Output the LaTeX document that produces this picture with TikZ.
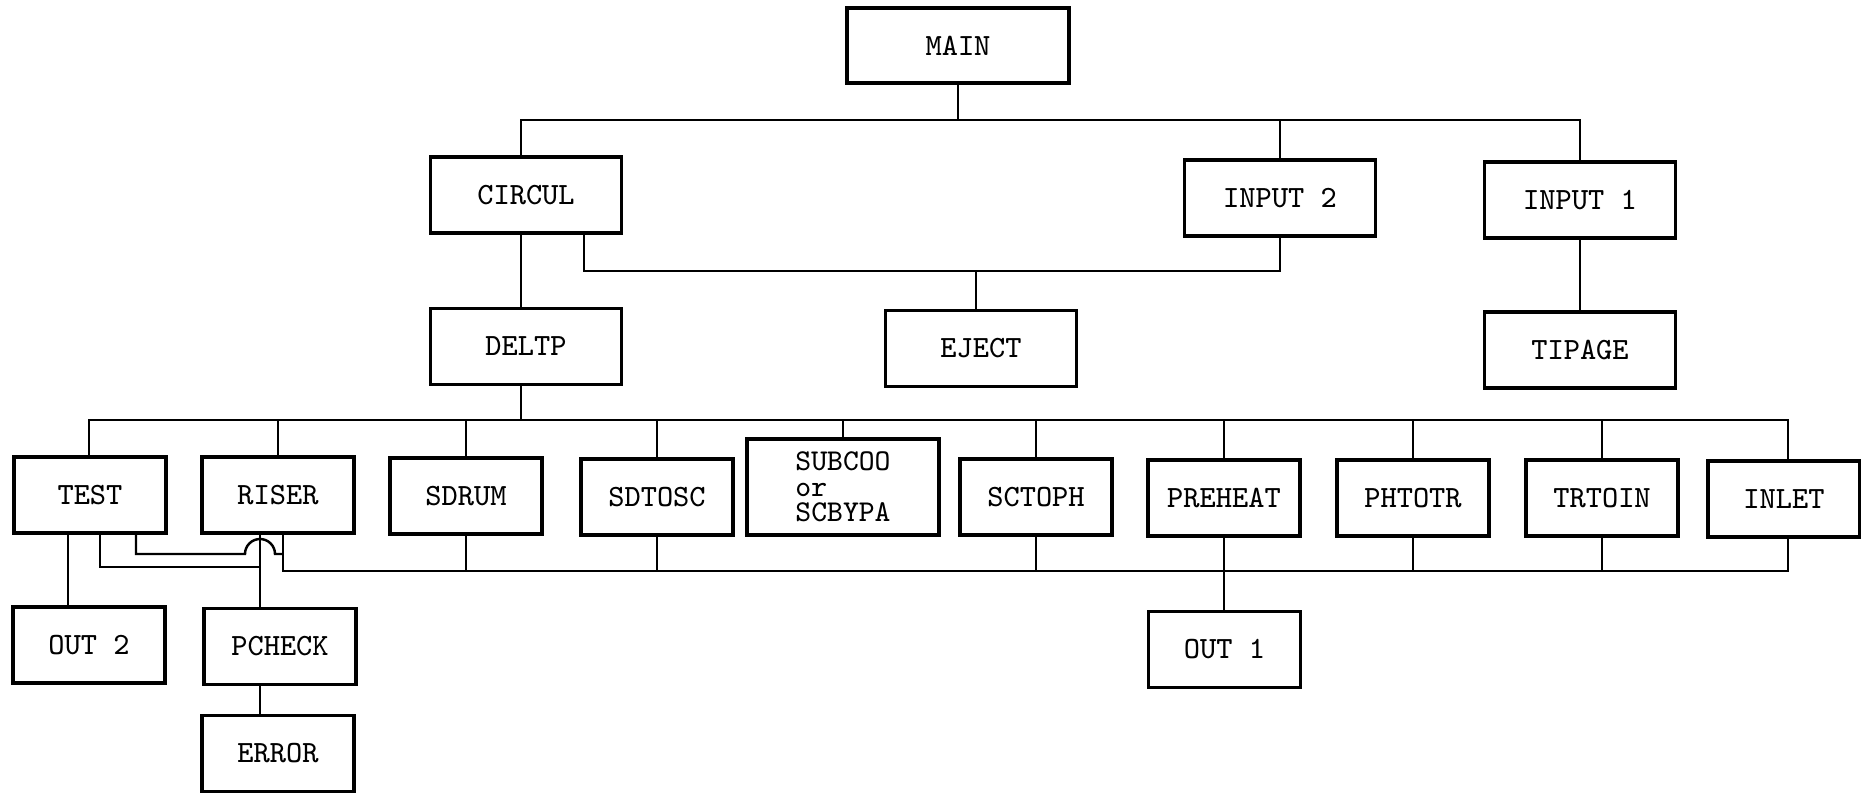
\documentclass[tikz,border=0pt]{standalone}
\usetikzlibrary{calc}
\begin{document}
\begin{tikzpicture}[
    blk/.style={draw, line width=1.1pt, minimum width=1.52cm, minimum height=0.76cm, inner sep=1pt, align=center, font=\ttfamily\fontsize{8.8}{9}\selectfont},
    wide/.style={blk, minimum width=1.91cm},
    ln/.style={line width=0.7pt}
]
\useasboundingbox (0,0) rectangle (18.61,-7.93);

% top levels
\node[blk, minimum width=2.22cm, minimum height=0.75cm] (main) at (9.58,-0.455) {MAIN};
\node[wide] (circul) at (5.26,-1.95) {CIRCUL};
\node[wide] (inptwo) at (12.80,-1.98) {INPUT 2};
\node[wide] (inpone) at (15.80,-2.00) {INPUT 1};
\node[wide] (deltp) at (5.26,-3.465) {DELTP};
\node[wide] (eject) at (9.81,-3.485) {EJECT};
\node[wide] (tipage) at (15.80,-3.50) {TIPAGE};

% row of DELTP
\node[blk] (test) at (0.90,-4.95) {TEST};
\node[blk] (riser) at (2.78,-4.95) {RISER};
\node[blk] (sdrum) at (4.66,-4.96) {SDRUM};
\node[blk] (sdtosc) at (6.57,-4.97) {SDTOSC};
\node[blk, minimum width=1.92cm, minimum height=0.96cm, align=left, font=\ttfamily\fontsize{8.6}{7.2}\selectfont] (subcoo) at (8.43,-4.87) {SUBCOO\\or\\SCBYPA};
\node[blk] (sctoph) at (10.36,-4.97) {SCTOPH};
\node[blk] (preheat) at (12.24,-4.98) {PREHEAT};
\node[blk] (phtotr) at (14.13,-4.98) {PHTOTR};
\node[blk] (trtoin) at (16.02,-4.98) {TRTOIN};
\node[blk] (inlet) at (17.84,-4.99) {INLET};

% bottom
\node[blk] (outtwo) at (0.89,-6.45) {OUT 2};
\node[blk] (pcheck) at (2.80,-6.465) {PCHECK};
\node[blk] (error) at (2.78,-7.535) {ERROR};
\node[blk] (outone) at (12.245,-6.495) {OUT 1};

\coordinate (busa) at (0,-1.20);
\coordinate (busb) at (0,-4.20);
\coordinate (busc) at (0,-5.71);
\coordinate (ej) at (9.76,-2.71);
\coordinate (hop) at (2.60,-5.54);
\coordinate (rj) at (2.83,-5.54);
\coordinate (pj) at (2.60,-5.67);

\draw[ln] (main.south) -- (main.south |- busa);
\draw[ln] ([xshift=-0.05cm]circul.north) |- (inpone.north |- busa) -- (inpone.north);
\draw[ln] (inptwo.north) -- (inptwo.north |- busa);
\draw[ln] ([xshift=0.58cm]circul.south) |- (ej) -| (inptwo.south);
\draw[ln] (ej) -- (ej |- eject.north);
\draw[ln] ([xshift=-0.05cm]circul.south) -- ([xshift=-0.05cm]deltp.north);
\draw[ln] (inpone.south) -- (tipage.north);

\draw[ln] ([xshift=-0.05cm]deltp.south) -- ([xshift=-0.05cm]deltp.south |- busb);
\draw[ln] ([xshift=-0.01cm]test.north) |- ([xshift=0.04cm]inlet.north |- busb) -- ([xshift=0.04cm]inlet.north);
\foreach \n in {riser,sdrum,sdtosc,subcoo,sctoph,preheat,phtotr,trtoin}
  \draw[ln] (\n.north) -- (\n.north |- busb);

\draw[ln] ([xshift=0.05cm]riser.south) |- ([xshift=0.04cm]inlet.south |- busc) -- ([xshift=0.04cm]inlet.south);
\foreach \n in {sdrum,sdtosc,sctoph,phtotr,trtoin}
  \draw[ln] (\n.south) -- (\n.south |- busc);
\draw[ln] (preheat.south) -- (preheat.south |- outone.north);

\draw[ln] ([xshift=-0.22cm]test.south) -- ([xshift=-0.22cm]test.south |- outtwo.north);
\draw[ln] ([xshift=0.46cm]test.south) |- ([xshift=-0.15cm]hop) arc[start angle=180, end angle=0, radius=0.15] -- (rj);
\draw[ln] ([xshift=0.10cm]test.south) |- (pj);
\draw[ln] (hop |- riser.south) -- (hop |- pcheck.north);
\draw[ln] (hop |- pcheck.south) -- (hop |- error.north);
\end{tikzpicture}
\end{document}
